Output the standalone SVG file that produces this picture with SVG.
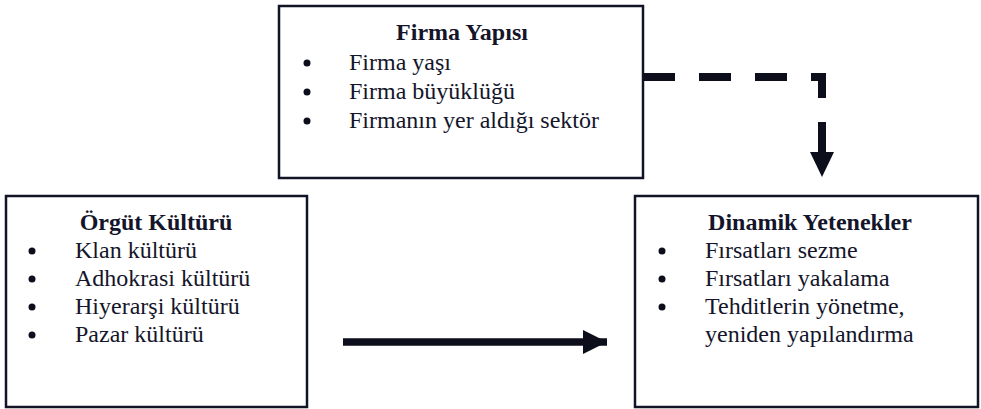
<svg xmlns="http://www.w3.org/2000/svg" width="981" height="409" viewBox="0 0 981 409">
<style>
.box{fill:#fff;stroke:#121426;stroke-width:2.5}
text{font-family:'Liberation Serif','DejaVu Serif',serif;font-size:24px;fill:#14152a}
.h{font-weight:bold;text-anchor:middle}
.b{fill:#0d0e1c}
</style>
<defs>
<marker id="ah" markerUnits="userSpaceOnUse" markerWidth="26" markerHeight="26" refX="24" refY="12" orient="auto" viewBox="0 0 26 26">
<path d="M0,0 L24,12 L0,24 Z" fill="#0d0e1c"/>
</marker>
</defs>
<rect width="981" height="409" fill="#fff"/>
<g id="firma-yapisi">
<rect class="box" x="279" y="6" width="364" height="172"/>
<text class="h" x="462" y="40">Firma Yapısı</text>
<circle class="b" cx="307" cy="63" r="3.5"/>
<circle class="b" cx="307" cy="92" r="3.5"/>
<circle class="b" cx="307" cy="121" r="3.5"/>
<text x="349" y="70">Firma yaşı</text>
<text x="349" y="99">Firma büyüklüğü</text>
<text x="349" y="128">Firmanın yer aldığı sektör</text>
</g>
<g id="orgut-kulturu">
<rect class="box" x="6" y="196" width="301" height="211"/>
<text class="h" x="156" y="230">Örgüt Kültürü</text>
<circle class="b" cx="32" cy="251" r="3.5"/>
<circle class="b" cx="32" cy="279" r="3.5"/>
<circle class="b" cx="32" cy="307" r="3.5"/>
<circle class="b" cx="32" cy="335" r="3.5"/>
<text x="75" y="258">Klan kültürü</text>
<text x="75" y="286">Adhokrasi kültürü</text>
<text x="75" y="314">Hiyerarşi kültürü</text>
<text x="75" y="342">Pazar kültürü</text>
</g>
<g id="dinamik-yetenekler">
<rect class="box" x="635" y="196" width="343" height="211"/>
<text class="h" x="810" y="230">Dinamik Yetenekler</text>
<circle class="b" cx="662" cy="251" r="3.5"/>
<circle class="b" cx="662" cy="279" r="3.5"/>
<circle class="b" cx="662" cy="307" r="3.5"/>
<text x="705" y="258">Fırsatları sezme</text>
<text x="705" y="286">Fırsatları yakalama</text>
<text x="705" y="314">Tehditlerin yönetme,</text>
<text x="705" y="342">yeniden yapılandırma</text>
</g>
<g id="connectors">
<path d="M343,342 H607" fill="none" stroke="#0d0e1c" stroke-width="7.5" marker-end="url(#ah)"/>
<path d="M643,77 H822 V152" fill="none" stroke="#0d0e1c" stroke-width="8" stroke-dasharray="32 24" stroke-linejoin="miter"/>
<path d="M810,152 L834,152 L822,177 Z" fill="#0d0e1c"/>
</g>
</svg>
